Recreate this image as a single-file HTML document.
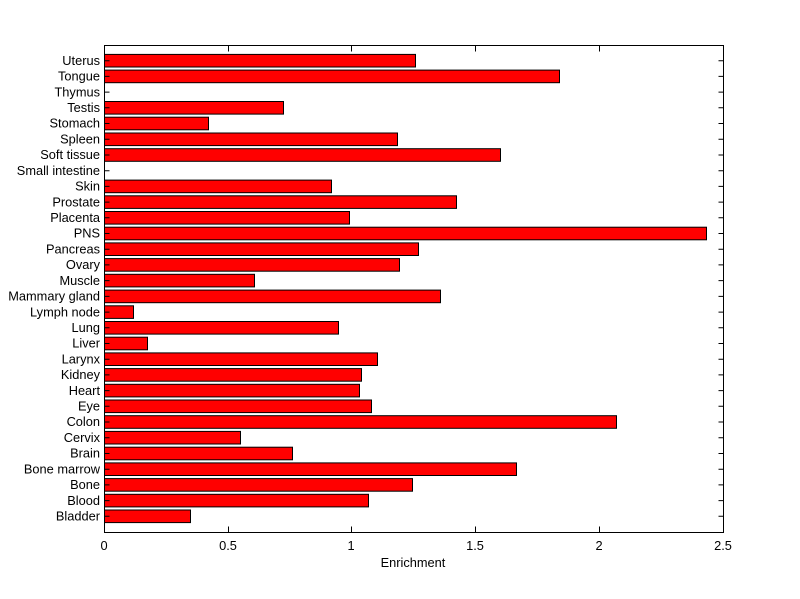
<!DOCTYPE html>
<html><head><meta charset="utf-8"><style>body{margin:0;background:#fff}svg{display:block}text{font-family:"Liberation Sans",sans-serif;font-size:12.8px}</style></head><body>
<svg width="800" height="599" xmlns="http://www.w3.org/2000/svg">
<rect width="800" height="599" fill="#fff"/>
<g fill="#f00" stroke="#000" stroke-width="1">
<rect x="104.5" y="510" width="86" height="12.6"/>
<rect x="104.5" y="494.3" width="264" height="12.6"/>
<rect x="104.5" y="478.6" width="308" height="12.6"/>
<rect x="104.5" y="462.9" width="412" height="12.6"/>
<rect x="104.5" y="447.2" width="188" height="12.6"/>
<rect x="104.5" y="431.4" width="136" height="12.6"/>
<rect x="104.5" y="415.7" width="512" height="12.6"/>
<rect x="104.5" y="400" width="267" height="12.6"/>
<rect x="104.5" y="384.3" width="255" height="12.6"/>
<rect x="104.5" y="368.6" width="257" height="12.6"/>
<rect x="104.5" y="352.9" width="273" height="12.6"/>
<rect x="104.5" y="337.2" width="43" height="12.6"/>
<rect x="104.5" y="321.5" width="234" height="12.6"/>
<rect x="104.5" y="305.8" width="29" height="12.6"/>
<rect x="104.5" y="290.1" width="336" height="12.6"/>
<rect x="104.5" y="274.3" width="150" height="12.6"/>
<rect x="104.5" y="258.6" width="295" height="12.6"/>
<rect x="104.5" y="242.9" width="314" height="12.6"/>
<rect x="104.5" y="227.2" width="602" height="12.6"/>
<rect x="104.5" y="211.5" width="245" height="12.6"/>
<rect x="104.5" y="195.8" width="352" height="12.6"/>
<rect x="104.5" y="180.1" width="227" height="12.6"/>
<rect x="104.5" y="148.7" width="396" height="12.6"/>
<rect x="104.5" y="133" width="293" height="12.6"/>
<rect x="104.5" y="117.2" width="104" height="12.6"/>
<rect x="104.5" y="101.5" width="179" height="12.6"/>
<rect x="104.5" y="70.1" width="455" height="12.6"/>
<rect x="104.5" y="54.4" width="311" height="12.6"/>
</g>
<rect x="104.5" y="45.5" width="619" height="487" fill="none" stroke="#000"/>
<g stroke="#000" stroke-width="1">
<path d="M104.5 516.3h5M104.5 500.6h5M104.5 484.9h5M104.5 469.2h5M104.5 453.5h5M104.5 437.7h5M104.5 422h5M104.5 406.3h5M104.5 390.6h5M104.5 374.9h5M104.5 359.2h5M104.5 343.5h5M104.5 327.8h5M104.5 312.1h5M104.5 296.4h5M104.5 280.6h5M104.5 264.9h5M104.5 249.2h5M104.5 233.5h5M104.5 217.8h5M104.5 202.1h5M104.5 186.4h5M104.5 170.7h5M104.5 155h5M104.5 139.3h5M104.5 123.5h5M104.5 107.8h5M104.5 92.1h5M104.5 76.4h5M104.5 60.7h5"/>
<path d="M723.5 516.3h-5M723.5 500.6h-5M723.5 484.9h-5M723.5 469.2h-5M723.5 453.5h-5M723.5 437.7h-5M723.5 422h-5M723.5 406.3h-5M723.5 390.6h-5M723.5 374.9h-5M723.5 359.2h-5M723.5 343.5h-5M723.5 327.8h-5M723.5 312.1h-5M723.5 296.4h-5M723.5 280.6h-5M723.5 264.9h-5M723.5 249.2h-5M723.5 233.5h-5M723.5 217.8h-5M723.5 202.1h-5M723.5 186.4h-5M723.5 170.7h-5M723.5 155h-5M723.5 139.3h-5M723.5 123.5h-5M723.5 107.8h-5M723.5 92.1h-5M723.5 76.4h-5M723.5 60.7h-5"/>
<path d="M228.5 45.5v6M351.5 45.5v6M475.5 45.5v6M599.5 45.5v6M228.5 532.5v-6M351.5 532.5v-6M475.5 532.5v-6M599.5 532.5v-6"/>
</g>
<g text-anchor="end">
<text x="100" y="520.5">Bladder</text><text x="100" y="504.8">Blood</text><text x="100" y="489.1">Bone</text><text x="100" y="473.4">Bone marrow</text><text x="100" y="457.7">Brain</text><text x="100" y="441.9">Cervix</text><text x="100" y="426.2">Colon</text><text x="100" y="410.5">Eye</text><text x="100" y="394.8">Heart</text><text x="100" y="379.1">Kidney</text><text x="100" y="363.4">Larynx</text><text x="100" y="347.7">Liver</text><text x="100" y="332">Lung</text><text x="100" y="316.3">Lymph node</text><text x="100" y="300.6">Mammary gland</text><text x="100" y="284.8">Muscle</text><text x="100" y="269.1">Ovary</text><text x="100" y="253.4">Pancreas</text><text x="100" y="237.7">PNS</text><text x="100" y="222">Placenta</text><text x="100" y="206.3">Prostate</text><text x="100" y="190.6">Skin</text><text x="100" y="174.9">Small intestine</text><text x="100" y="159.2">Soft tissue</text><text x="100" y="143.5">Spleen</text><text x="100" y="127.7">Stomach</text><text x="100" y="112">Testis</text><text x="100" y="96.3">Thymus</text><text x="100" y="80.6">Tongue</text><text x="100" y="64.9">Uterus</text>
</g>
<g text-anchor="middle">
<text x="104" y="550">0</text><text x="228" y="550">0.5</text><text x="351" y="550">1</text><text x="475" y="550">1.5</text><text x="599" y="550">2</text><text x="723" y="550">2.5</text>
<text x="413" y="567">Enrichment</text>
</g>
</svg>
</body></html>
